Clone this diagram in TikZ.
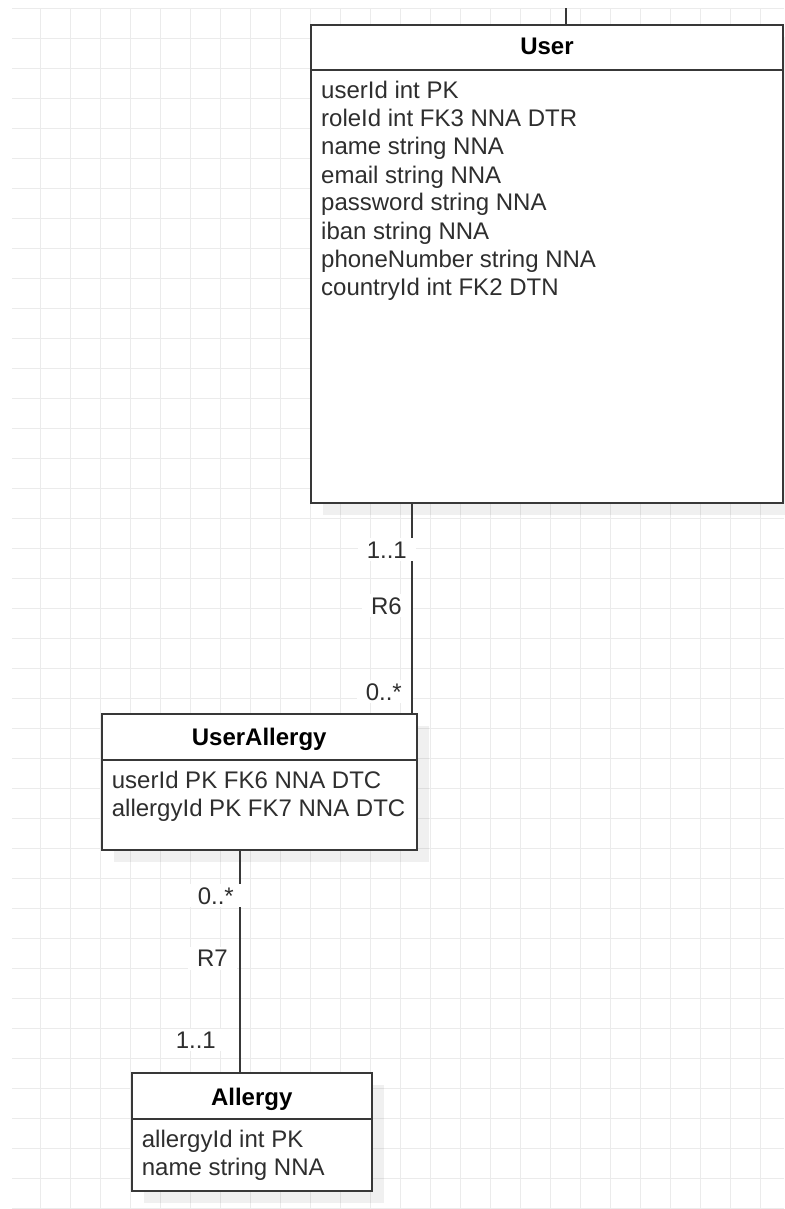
\documentclass[tikz,border=0pt]{standalone}
\usepackage{fontspec}
\setmainfont{Liberation Sans}
\usetikzlibrary{shadows}
\definecolor{gridc}{HTML}{EBEBEB}
\definecolor{linec}{HTML}{383838}
\definecolor{txtc}{HTML}{2E2E2E}
\tikzset{
  gridline/.style={draw=gridc, line width=1.2pt},
  entity/.style={draw=linec, fill=white, line width=1.8pt, inner sep=0pt,
    drop shadow={shadow xshift=12pt, shadow yshift=-12pt, opacity=0.06, fill=black}},
  divider/.style={draw=linec, line width=1.8pt},
  conn/.style={draw=linec, line width=1.9pt},
  etitle/.style={font=\fontsize{24}{28}\selectfont\bfseries, text=black, inner sep=0pt},
  attr/.style={font=\fontsize{24}{28}\selectfont, text=txtc, inner sep=0pt},
  lab/.style={font=\fontsize{24}{28}\selectfont, text=txtc, fill=white, inner xsep=9pt, inner ysep=3pt}
}
\begin{document}
\begin{tikzpicture}[x=1pt,y=-1pt]
\useasboundingbox (0,0) rectangle (784,1209);
% grid
\begin{scope}
  \clip (12,8.5) rectangle (784,1209);
  \foreach \gx in {40.5,70.5,...,780.5} \draw[gridline] (\gx,8.5) -- (\gx,1209);
  \foreach \gy in {8.5,38.5,...,1208.5} \draw[gridline] (12,\gy) -- (784,\gy);
\end{scope}

% User entity
\node[entity, minimum width=472pt, minimum height=478pt] (user) at (547,264) {};
\draw[divider] ([yshift=-46pt]user.north west) -- ([yshift=-46pt]user.north east);
\node[etitle, anchor=base] (usertitle) at (547,55) {User};
\foreach \t [count=\i] in {userId int PK, roleId int FK3 NNA DTR, name string NNA, email string NNA, password string NNA, iban string NNA, phoneNumber string NNA, countryId int FK2 DTN}
  \node[attr, anchor=base west] (userattr\i) at (321,71+28*\i) {\t};

% UserAllergy entity
\node[entity, minimum width=315pt, minimum height=136pt] (useral) at (259.2,782) {};
\draw[divider] ([yshift=-47pt]useral.north west) -- ([yshift=-47pt]useral.north east);
\node[etitle, anchor=base] (useraltitle) at (259.2,745) {UserAllergy};
\foreach \t [count=\i] in {userId PK FK6 NNA DTC, allergyId PK FK7 NNA DTC}
  \node[attr, anchor=base west] (useralattr\i) at (111.7,760+28*\i) {\t};

% Allergy entity
\node[entity, minimum width=240pt, minimum height=118.3pt] (allergy) at (251.7,1131.85) {};
\draw[divider] ([yshift=-47.3pt]allergy.north west) -- ([yshift=-47.3pt]allergy.north east);
\node[etitle, anchor=base] (allergytitle) at (251.7,1105) {Allergy};
\foreach \t [count=\i] in {allergyId int PK, name string NNA}
  \node[attr, anchor=base west] (allergyattr\i) at (141.7,1119.7+28*\i) {\t};

% connectors
\coordinate (topend) at (566,8.5);
\draw[conn] (topend) -- (topend |- user.north);
\coordinate (r6top) at ([xshift=102.3pt]user.south west);
\draw[conn] (r6top) -- (r6top |- useral.north);
\coordinate (r7top) at ([xshift=139pt]useral.south west);
\draw[conn] (r7top) -- (r7top |- allergy.north);

% labels
\node[lab, anchor=base east] (r6a) at (416,558) {1..1};
\node[lab, anchor=base east] (r6n) at (411,614) {R6};
\node[lab, anchor=base east] (r6b) at (411,700) {0..*};
\node[lab, anchor=base east] (r7a) at (243,904) {0..*};
\node[lab, anchor=base east] (r7n) at (237,966.7) {R7};
\node[lab, anchor=base east] (r7b) at (225,1048) {1..1};
\end{tikzpicture}
\end{document}
